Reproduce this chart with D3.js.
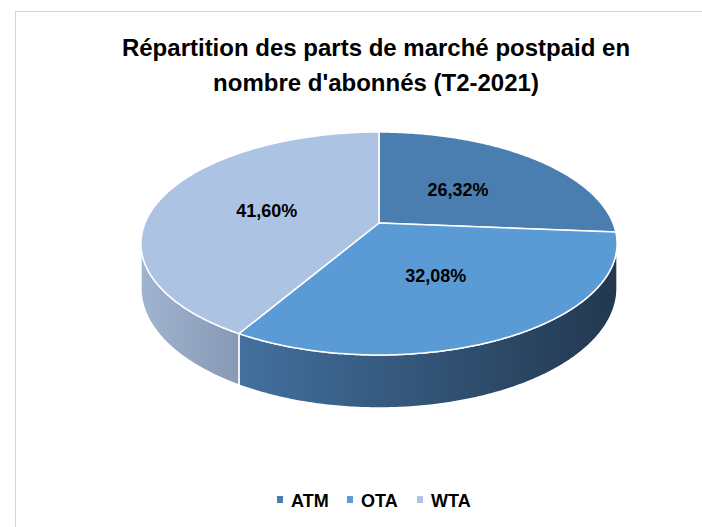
<!DOCTYPE html>
<html>
<head>
<meta charset="utf-8">
<script src="https://cdn.jsdelivr.net/npm/d3@7"></script>
<style>
  body { margin: 0; background: #fff; }
  svg { display: block; font-family: "Liberation Sans", Arial, sans-serif; }
</style>
</head>
<body>
<svg id="chart" width="702" height="527"></svg>
<script>
'use strict';

// data
var categories = ['ATM', 'OTA', 'WTA'];
var values = [26.32, 32.08, 41.60];
var labels = ['26,32%', '32,08%', '41,60%'];
var colors = ['#4a7eb0', '#5b9bd5', '#adc3e3'];
var sideColors = [['#3e6a96', '#263f58'], ['#43709e', '#22384f'], ['#a0b3cf', '#8799b5']];

var W = 702, H = 527;
var svg = d3.select('#chart');

// frame
svg.append('rect')
  .attr('x', 15.5).attr('y', 11.5)
  .attr('width', W).attr('height', H)
  .attr('fill', 'none')
  .attr('stroke', '#d4d4d4');

// title
var title = svg.append('text')
  .attr('text-anchor', 'middle')
  .attr('font-weight', 'bold')
  .attr('font-size', 24)
  .attr('fill', '#000');
title.append('tspan').attr('x', 376).attr('y', 56).text('Répartition des parts de marché postpaid en');
title.append('tspan').attr('x', 376).attr('y', 91).text("nombre d'abonnés (T2-2021)");

// perspective disc: angle (0 = top, clockwise) -> screen
var cx = 379, cy = 223, A = 234, B = 107.7, k = 0.1838, depth = 43.3;
function proj(a, r, dz) {
  var u = r * Math.sin(a), v = -r * Math.cos(a);
  var w = 1 - k * v;
  return [cx + A * u / w, cy + B * v / w + (dz || 0) / w];
}
function arcPts(a0, a1, dz) {
  var n = Math.max(2, Math.ceil(Math.abs(a1 - a0) / 0.01));
  return d3.range(n + 1).map(function(i) { return proj(a0 + (a1 - a0) * i / n, 1, dz); });
}

var pie = d3.pie().sort(null).value(function(d) { return d; });
var arcs = pie(values);

// visible (front-facing) part of the wall
var front0 = Math.acos(-k), front1 = 2 * Math.PI - Math.acos(-k);

var defs = svg.append('defs');
var line = d3.line();

arcs.forEach(function(d, i) {
  var a0 = Math.max(d.startAngle, front0), a1 = Math.min(d.endAngle, front1);
  if (a1 <= a0) return;
  var top = arcPts(a0, a1, 0);
  var bot = arcPts(a1, a0, depth);
  var x0 = d3.min(top.concat(bot), function(p) { return p[0]; });
  var x1 = d3.max(top.concat(bot), function(p) { return p[0]; });
  var g = defs.append('linearGradient')
    .attr('id', 'side' + i)
    .attr('gradientUnits', 'userSpaceOnUse')
    .attr('x1', x0).attr('x2', x1).attr('y1', 0).attr('y2', 0);
  g.append('stop').attr('offset', 0).attr('stop-color', sideColors[i][0]);
  g.append('stop').attr('offset', 1).attr('stop-color', sideColors[i][1]);
  svg.append('path')
    .attr('d', line(top.concat(bot)) + 'Z')
    .attr('fill', 'url(#side' + i + ')')
    .attr('stroke', '#fff')
    .attr('stroke-width', 1.5)
    .attr('stroke-linejoin', 'round');
});

// top faces
svg.selectAll('path.slice')
  .data(arcs)
  .enter().append('path')
  .attr('class', 'slice')
  .attr('d', function(d) {
    return line([proj(0, 0)].concat(arcPts(d.startAngle, d.endAngle, 0))) + 'Z';
  })
  .attr('fill', function(d, i) { return colors[i]; })
  .attr('stroke', '#fff')
  .attr('stroke-width', 1.5)
  .attr('stroke-linejoin', 'round');

// data labels
svg.selectAll('text.lbl')
  .data(arcs)
  .enter().append('text')
  .attr('class', 'lbl')
  .attr('x', function(d) { return proj((d.startAngle + d.endAngle) / 2, 0.5)[0] - 2; })
  .attr('y', function(d) { return proj((d.startAngle + d.endAngle) / 2, 0.5)[1] + 1; })
  .attr('dy', '0.36em')
  .attr('text-anchor', 'middle')
  .attr('font-weight', 'bold')
  .attr('font-size', 18)
  .text(function(d, i) { return labels[i]; });

// legend
var legendX = d3.scalePoint().domain(categories).range([277, 417]);
var leg = svg.selectAll('g.leg')
  .data(categories)
  .enter().append('g')
  .attr('class', 'leg')
  .attr('transform', function(d) { return 'translate(' + legendX(d) + ',496)'; });
leg.append('rect')
  .attr('width', 6).attr('height', 7)
  .attr('fill', function(d, i) { return colors[i]; });
leg.append('text')
  .attr('x', 14).attr('y', 10.5)
  .attr('font-weight', 'bold')
  .attr('font-size', 18)
  .text(function(d) { return d; });
</script>
</body>
</html>
